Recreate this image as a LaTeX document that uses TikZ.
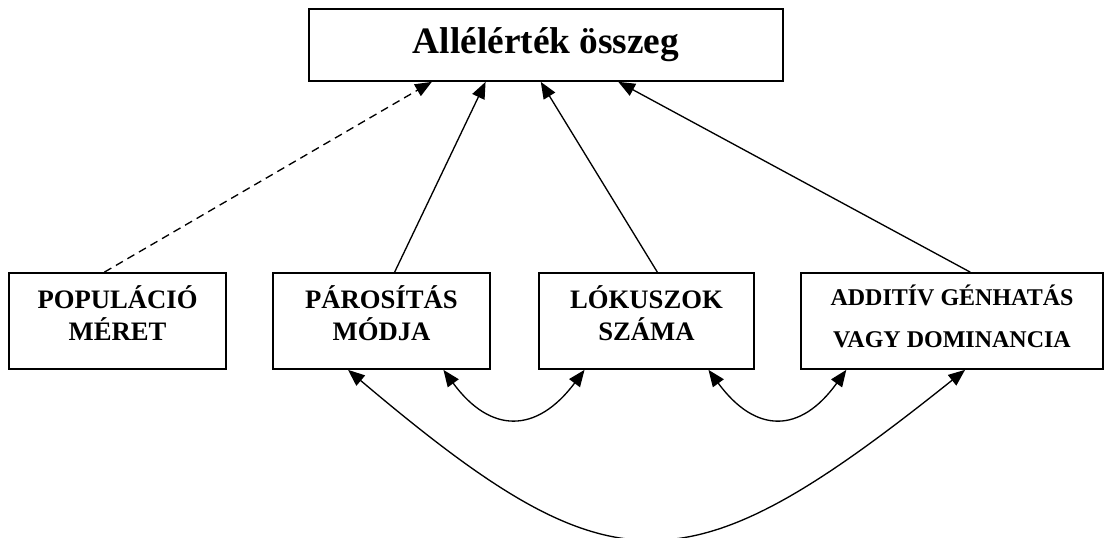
\documentclass[tikz,border=0pt]{standalone}
\usepackage{fontspec}
\setmainfont{Liberation Serif}
\usetikzlibrary{%
  calc,arrows.meta}
\tikzset {>={Triangle[length=12.5pt,width=10pt]}}
\tikzset{
  factorbox/.style={draw,line width=1.3pt,minimum width=162.75pt,
    minimum height=72pt,inner sep=0pt,align=center,text depth=12pt,
    font=\bfseries\fontsize{20}{24}\selectfont},
  sumbox/.style={draw,line width=1.3pt,minimum width=355.5pt,
    minimum height=54pt,inner sep=0pt,
    font=\bfseries\fontsize{28}{34}\selectfont},
  link/.style={line width=1pt}
}
\begin{document}
\begin{tikzpicture}[x=0.75pt,y=-0.75pt]
\useasboundingbox (0,0) rectangle (1107,538);
\node[sumbox] (sum) at (546,45) {Allélérték összeg};
\node[factorbox] (pop) at (117.5,321) {POPULÁCIÓ\\MÉRET};
\node[factorbox] (par) at (381.5,321) {PÁROSÍTÁS\\MÓDJA};
\node[factorbox,minimum width=161.25pt] (lok) at (646.5,321) {LÓKUSZOK\\SZÁMA};
\node[factorbox,minimum width=226.5pt,text depth=7pt,
      font=\bfseries\fontsize{18}{31.5}\selectfont] (add) at (952,321)
      {ADDITÍV GÉNHATÁS\\VAGY DOMINANCIA};
% hatasok az osszegre
\draw[->,link,dashed,dash pattern=on 6pt off 4pt]
  ($(pop.north west)!0.44!(pop.north east)$) -- ($(sum.south west)!0.26!(sum.south east)$);
\draw[->,link] ($(par.north west)!0.56!(par.north east)$) -- ($(sum.south west)!0.373!(sum.south east)$);
\draw[->,link] ($(lok.north west)!0.55!(lok.north east)$) -- ($(sum.south west)!0.489!(sum.south east)$);
\draw[->,link] ($(add.north west)!0.56!(add.north east)$) -- ($(sum.south west)!0.652!(sum.south east)$);
% kolcsonhatasok
\draw[<->,link] ($(par.south west)!0.783!(par.south east)$)
  .. controls +(47,64) and +(-48,64) .. ($(lok.south west)!0.214!(lok.south east)$);
\draw[<->,link] ($(lok.south west)!0.786!(lok.south east)$)
  .. controls +(47,64) and +(-46,64) .. ($(add.south west)!0.152!(add.south east)$);
\draw[<->,link] ($(par.south west)!0.347!(par.south east)$)
  .. controls +(265,224) and +(-280,224) .. ($(add.south west)!0.543!(add.south east)$);
\end{tikzpicture}
\end{document}
